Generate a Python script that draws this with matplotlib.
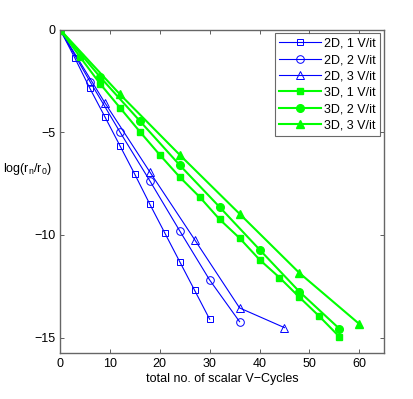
import matplotlib
matplotlib.use("Agg")
import matplotlib.pyplot as plt

plt.rcParams['font.family'] = ['Liberation Sans', 'DejaVu Sans']
plt.rcParams['mathtext.fontset'] = 'custom'
plt.rcParams['mathtext.rm'] = 'Liberation Sans'

# 2D runs (x = total scalar V-cycles, y = log(r_n/r_0))
x_2d_1 = [0, 3, 6, 9, 12, 15, 18, 21, 24, 27, 30]
y_2d_1 = [0, -1.4, -2.87, -4.25, -5.65, -7.05, -8.5, -9.9, -11.3, -12.7, -14.1]
x_2d_2 = [0, 6, 12, 18, 24, 30, 36]
y_2d_2 = [0, -2.53, -4.98, -7.36, -9.8, -12.19, -14.22]
x_2d_3 = [0, 9, 18, 27, 36, 45]
y_2d_3 = [0, -3.57, -6.93, -10.23, -13.55, -14.51]

# 3D runs
x_3d_1 = [0, 4, 8, 12, 16, 20, 24, 28, 32, 36, 40, 44, 48, 52, 56]
y_3d_1 = [0, -1.33, -2.63, -3.8, -4.97, -6.1, -7.18, -8.15, -9.24, -10.15,
          -11.2, -12.07, -13.03, -13.96, -14.95]
x_3d_2 = [0, 8, 16, 24, 32, 40, 48, 56]
y_3d_2 = [0, -2.3, -4.45, -6.6, -8.64, -10.71, -12.76, -14.56]
x_3d_3 = [0, 12, 24, 36, 48, 60]
y_3d_3 = [0, -3.15, -6.1, -8.97, -11.85, -14.33]

labels = ['2D, 1 V/it', '2D, 2 V/it', '2D, 3 V/it',
          '3D, 1 V/it', '3D, 2 V/it', '3D, 3 V/it']

fig = plt.figure(figsize=(4.14, 3.99), dpi=100)
ax = fig.add_axes([0.145, 0.115, 0.783, 0.811])

blue = (0, 0, 1)
green = (0, 1, 0)

ax.plot(x_2d_1, y_2d_1, '-s', color=blue, lw=0.8, mfc='none', ms=5, mew=0.7, label=labels[0])
ax.plot(x_2d_2, y_2d_2, '-o', color=blue, lw=0.8, mfc='none', ms=5.5, mew=0.7, label=labels[1])
ax.plot(x_2d_3, y_2d_3, '-^', color=blue, lw=0.8, mfc='none', ms=6, mew=0.7, label=labels[2])
ax.plot(x_3d_1, y_3d_1, '-s', color=green, lw=1.5, ms=5, label=labels[3])
ax.plot(x_3d_2, y_3d_2, '-o', color=green, lw=1.5, ms=5.5, label=labels[4])
ax.plot(x_3d_3, y_3d_3, '-^', color=green, lw=1.5, ms=6, label=labels[5])

ax.set_xlim(0, 65)
ax.set_ylim(-15.75, 0)
ax.set_xticks([0, 10, 20, 30, 40, 50, 60])
ax.set_yticks([-15, -10, -5, 0])
ax.tick_params(direction='in', top=True, right=True, labelsize=9,
               length=3, width=0.6, color='#444444')
for s in ax.spines.values():
    s.set_color('#666666')
    s.set_linewidth(1.0)

ax.set_xlabel('total no. of scalar V\u2212Cycles', fontsize=9, labelpad=2)
ax.set_ylabel(r'log(r$_\mathrm{n}$/r$_\mathrm{0}$)', fontsize=9, rotation=0)
ax.yaxis.set_label_coords(-0.175, 0.57)
ax.yaxis.label.set_horizontalalignment('left')
ax.yaxis.label.set_verticalalignment('center')

leg = ax.legend(loc='upper right', fontsize=9, frameon=True, fancybox=False,
                borderaxespad=0.3, handlelength=3.3, labelspacing=0.35,
                borderpad=0.35, handletextpad=0.3)
leg.get_frame().set_edgecolor('#444444')
leg.get_frame().set_linewidth(0.8)

fig.savefig('out.png', dpi=100)
